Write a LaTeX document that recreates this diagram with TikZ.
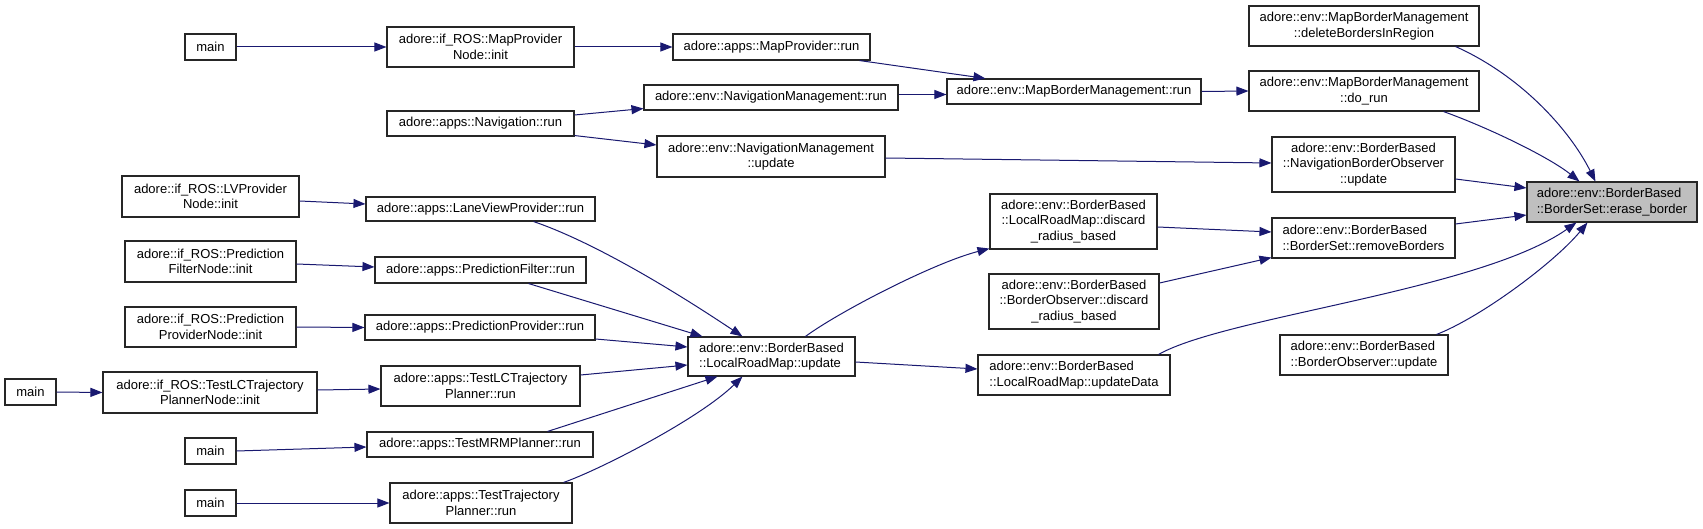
\documentclass[tikz,border=0pt]{standalone}
\usepackage{fontspec}
\setmainfont{Liberation Sans}
\usetikzlibrary{arrows.meta,calc}
\definecolor{edgeblue}{HTML}{191970}
\definecolor{nodegray}{HTML}{BFBFBF}
\newcommand\gnode[7][gbox]{\node[#1, minimum width={#5-#3}, minimum height={#6-#4}] (#2) at ({(#3+#5)/2},{(#4+#6)/2}) {#7};}
\begin{document}
\begin{tikzpicture}[x=1pt,y=-1pt,
  gbox/.style={draw=black!85, line width=1.1pt, fill=white, inner sep=0pt, align=center, font=\fontsize{13}{15.3}\selectfont},
  lbox/.style={gbox, align=left},
  hbox/.style={lbox, fill=nodegray},
  cedge/.style={draw=edgeblue, line width=1pt, -{Triangle[length=12pt,width=9pt]}}]
\useasboundingbox (0,0) rectangle (1703,529);
% nodes
\gnode{main1}{185}{34}{236}{60}{main}
\gnode{mpn}{387}{27}{574}{67}{adore::if\_ROS::MapProvider\\Node::init}
\gnode{navrun}{387}{111}{574}{136}{adore::apps::Navigation::run}
\gnode{mprun}{673}{34}{870}{60}{adore::apps::MapProvider::run}
\gnode{nmrun}{644}{85}{898}{110}{adore::env::NavigationManagement::run}
\gnode{mbmrun}{947}{79}{1201}{104}{adore::env::MapBorderManagement::run}
\gnode{nmupd}{657}{136}{885}{177}{adore::env::NavigationManagement\\::update}
\gnode{delb}{1249}{6}{1479}{46}{adore::env::MapBorderManagement\\::deleteBordersInRegion}
\gnode{dorun}{1249}{71}{1479}{111}{adore::env::MapBorderManagement\\::do\_run}
\gnode{nbo}{1272}{137}{1455}{192}{adore::env::BorderBased\\::NavigationBorderObserver\\::update}
\gnode[hbox]{erase}{1527}{182}{1697}{222}{adore::env::BorderBased\\::BorderSet::erase\_border}
\gnode[lbox]{remb}{1272}{218}{1455}{258}{adore::env::BorderBased\\::BorderSet::removeBorders}
\gnode[lbox]{boupd}{1280}{335}{1448}{375}{adore::env::BorderBased\\::BorderObserver::update}
\gnode{lrmdisc}{990}{194}{1157}{249}{adore::env::BorderBased\\::LocalRoadMap::discard\\\_radius\_based}
\gnode{bodisc}{989}{274}{1159}{329}{adore::env::BorderBased\\::BorderObserver::discard\\\_radius\_based}
\gnode[lbox]{lrmupd}{688}{337}{855}{376}{adore::env::BorderBased\\::LocalRoadMap::update}
\gnode[lbox]{upddata}{978}{355}{1170}{395}{adore::env::BorderBased\\::LocalRoadMap::updateData}
\gnode{lvpn}{122}{176}{299}{217}{adore::if\_ROS::LVProvider\\Node::init}
\gnode{lvprun}{366}{197}{595}{221}{adore::apps::LaneViewProvider::run}
\gnode{pfn}{125}{241}{296}{282}{adore::if\_ROS::Prediction\\FilterNode::init}
\gnode{pfrun}{375}{257}{586}{283}{adore::apps::PredictionFilter::run}
\gnode{ppn}{125}{307}{296}{347}{adore::if\_ROS::Prediction\\ProviderNode::init}
\gnode{pprun}{365}{315}{595}{340}{adore::apps::PredictionProvider::run}
\gnode{main2}{5}{379}{56}{405}{main}
\gnode{tlcn}{103}{372}{317}{413}{adore::if\_ROS::TestLCTrajectory\\PlannerNode::init}
\gnode{tlcrun}{381}{366}{580}{406}{adore::apps::TestLCTrajectory\\Planner::run}
\gnode{main3}{185}{438}{236}{464}{main}
\gnode{tmrm}{367}{432}{593}{457}{adore::apps::TestMRMPlanner::run}
\gnode{main4}{185}{490}{236}{516}{main}
\gnode{ttp}{390}{483}{572}{523}{adore::apps::TestTrajectory\\Planner::run}
% edges
\draw[cedge] (main1.east) -- (mpn.west);
\draw[cedge] (mpn.east) -- (mprun.west);
\draw[cedge] ($(mprun.south east)+(-11,0)$) -- ($(mbmrun.north west)+(39,0)$);
\draw[cedge] ($(navrun.east)+(0,-8.5)$) -- ($(nmrun.south west)+(0,-2)$);
\draw[cedge] ($(navrun.south east)+(0,-1)$) -- ($(nmupd.west)+(0,-11.5)$);
\draw[cedge] ($(nmrun.east)+(0,-3)$) -- ($(mbmrun.west)+(0,3)$);
\draw[cedge] (mbmrun.east) -- (dorun.west);
\draw[cedge] ($(nmupd.east)+(0,1.5)$) -- ($(nbo.west)+(0,-1.5)$);
\draw[cedge] ($(delb.south east)+(-24,0)$) .. controls +(65,29) and +(-26,-52) .. ($(erase.north west)+(69,0)$);
\draw[cedge] ($(dorun.south east)+(-36,0)$) .. controls +(47,17) and +(-30,-24) .. ($(erase.north west)+(53,0)$);
\draw[cedge] ($(nbo.east)+(0,14.5)$) -- ($(erase.west)+(0,-14)$);
\draw[cedge] ($(remb.east)+(0,-14)$) -- ($(erase.west)+(0,13)$);
\draw[cedge] ($(upddata.north east)+(-12,0)$) .. controls +(67,-38) and +(-97,68) .. ($(erase.south west)+(50,0)$);
\draw[cedge] ($(boupd.north east)+(-12,0)$) .. controls +(44,-17) and +(-33,40) .. ($(erase.south west)+(61,0)$);
\draw[cedge] ($(lrmdisc.east)+(0,5.5)$) -- ($(remb.west)+(0,-6)$);
\draw[cedge] ($(bodisc.east)+(0,-18.5)$) -- ($(remb.south west)+(0,-1)$);
\draw[cedge] ($(lrmupd.north west)+(118,0)$) .. controls +(34,-25) and +(-55,14) .. ($(lrmdisc.south west)+(0,-1)$);
\draw[cedge] ($(lrmupd.east)+(0,5.5)$) -- ($(upddata.west)+(0,-6)$);
\draw[cedge] ($(lvpn.east)+(0,4.5)$) -- ($(lvprun.west)+(0,-5)$);
\draw[cedge] ($(pfn.east)+(0,2.5)$) -- ($(pfrun.west)+(0,-3)$);
\draw[cedge] (ppn.east) -- (pprun.west);
\draw[cedge] (main2.east) -- (tlcn.west);
\draw[cedge] ($(tlcn.east)+(0,-2.5)$) -- ($(tlcrun.west)+(0,3)$);
\draw[cedge] (main3.east) -- ($(tmrm.west)+(0,2.5)$);
\draw[cedge] (main4.east) -- (ttp.west);
\draw[cedge] ($(lvprun.south east)+(-62,0)$) .. controls +(47,16) and +(-93,-62) .. ($(lrmupd.north west)+(55,0)$);
\draw[cedge] ($(pfrun.south east)+(-58,0)$) -- ($(lrmupd.north west)+(15,0)$);
\draw[cedge] ($(pprun.east)+(0,11.5)$) -- ($(lrmupd.west)+(0,-9.5)$);
\draw[cedge] ($(tlcrun.east)+(0,-11)$) -- ($(lrmupd.west)+(0,8.5)$);
\draw[cedge] ($(tmrm.north east)+(-46,0)$) -- ($(lrmupd.south west)+(30,0)$);
\draw[cedge] ($(ttp.north east)+(-9,0)$) .. controls +(37,-13) and +(-43,42) .. ($(lrmupd.south west)+(55,0)$);
\end{tikzpicture}
\end{document}
